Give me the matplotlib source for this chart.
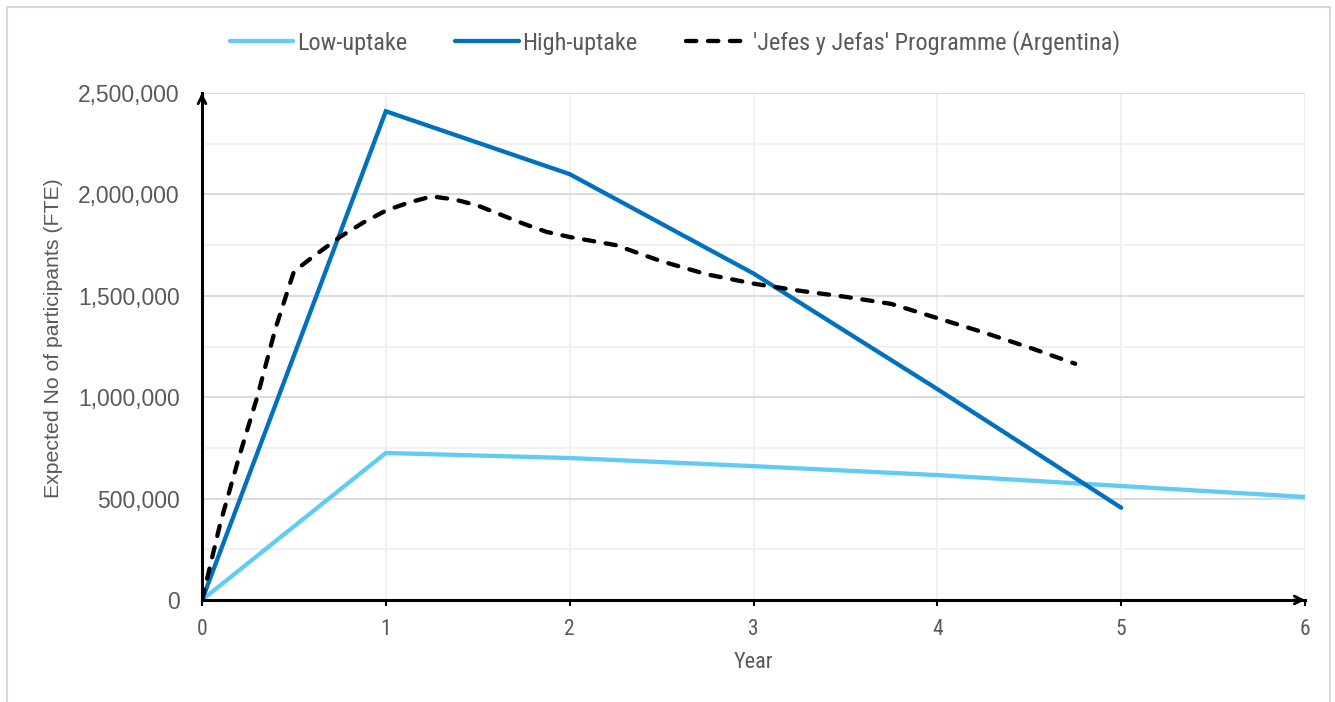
import matplotlib
matplotlib.use("Agg")
import matplotlib.pyplot as plt
from matplotlib.patches import Rectangle
from matplotlib.ticker import FuncFormatter, MultipleLocator
import logging
logging.getLogger("matplotlib.font_manager").setLevel(logging.ERROR)

# ---- data ----
years_low = [0, 1, 2, 3, 4, 5, 6]
low_uptake = [0, 725000, 700000, 660000, 616000, 562000, 508000]

years_high = [0, 1, 2, 3, 4, 5]
high_uptake = [0, 2410000, 2100000, 1610000, 1040000, 455000]

years_jefes = [0, 0.1, 0.2, 0.3, 0.4, 0.5, 0.6, 0.75, 0.875, 1.0, 1.125, 1.25,
               1.375, 1.5, 1.625, 1.75, 1.875, 2.0, 2.25, 2.5, 2.75, 3.0, 3.25,
               3.5, 3.75, 4.0, 4.25, 4.5, 4.75]
jefes = [0, 380000, 700000, 1000000, 1340000, 1620000, 1690000, 1790000,
         1860000, 1920000, 1960000, 1990000, 1975000, 1945000, 1900000,
         1855000, 1815000, 1790000, 1750000, 1670000, 1605000, 1560000,
         1525000, 1495000, 1460000, 1390000, 1320000, 1245000, 1165000]

series_labels = ["Low-uptake", "High-uptake", "'Jefes y Jefas' Programme (Argentina)"]
x_label = "Year"
y_label = "Expected No of participants (FTE)"
x_ticks = [0, 1, 2, 3, 4, 5, 6]

# ---- style ----
W, H = 1335, 702
fig = plt.figure(figsize=(W / 100, H / 100), dpi=100)
ax = fig.add_axes([202 / W, 1 - 600 / H, (1305 - 202) / W, (600 - 93) / H])

narrow = ["Roboto Condensed", "Archivo Narrow", "Liberation Sans", "DejaVu Sans"]
regular = ["Liberation Sans", "DejaVu Sans"]
grey = "#595959"

ax.set_xlim(0, 6)
ax.set_ylim(0, 2500000)

# gridlines
ax.yaxis.set_major_locator(MultipleLocator(500000))
ax.yaxis.set_minor_locator(MultipleLocator(250000))
ax.set_xticks(x_ticks)
ax.grid(True, which="major", axis="y", color="#D9D9D9", linewidth=1.3, zorder=0)
ax.grid(True, which="minor", axis="y", color="#EFEFEF", linewidth=1.3, zorder=0)
ax.grid(True, which="major", axis="x", color="#EFEFEF", linewidth=1.3, zorder=0)
ax.set_axisbelow(True)

ax.plot(years_low, low_uptake, color="#61CBF4", lw=3.1, label=series_labels[0],
        solid_capstyle="round", solid_joinstyle="miter", zorder=3)
ax.plot(years_high, high_uptake, color="#0070C0", lw=3.1, label=series_labels[1],
        solid_capstyle="round", solid_joinstyle="miter", zorder=4)
ax.plot(years_jefes, jefes, color="black", lw=3.1, label=series_labels[2],
        dashes=(2.4, 2.7), dash_capstyle="round", zorder=5)

# spines
for s in ["top", "right"]:
    ax.spines[s].set_visible(False)
for s in ["left", "bottom"]:
    ax.spines[s].set_linewidth(2.2)
    ax.spines[s].set_color("black")
    ax.spines[s].set_zorder(6)

# arrowheads on axes
arrow = dict(arrowstyle="->,head_length=0.55,head_width=0.28", color="black",
             lw=2.0, shrinkA=0, shrinkB=0)
ax.annotate("", xy=(0, 1.0), xycoords="axes fraction", xytext=(0, 0.99),
            arrowprops=arrow, annotation_clip=False)
ax.annotate("", xy=(1.0, 0), xycoords="axes fraction", xytext=(0.99, 0),
            arrowprops=arrow, annotation_clip=False)

# ticks
ax.yaxis.set_major_formatter(FuncFormatter(lambda v, p: f"{int(v):,}"))
ax.tick_params(axis="y", which="both", length=0, pad=16, labelsize=16.5, labelcolor=grey)
ax.tick_params(axis="x", which="major", length=4, width=1.5, color="black",
               pad=10, labelsize=15.5, labelcolor=grey)
for t in ax.get_yticklabels():
    t.set_family(regular)
for t in ax.get_xticklabels():
    t.set_family(narrow)

fig.text(753 / W, 1 - 662 / H, x_label, ha="center", va="center",
         fontsize=16, color=grey, family=narrow)
fig.text(54 / W, 1 - 338 / H, y_label, ha="center", va="center", rotation=90,
         fontsize=15.3, color=grey, family=regular)

leg = fig.legend(loc="center", bbox_to_anchor=(675 / W, 1 - 43 / H), ncol=3,
                 frameon=False, handlelength=2.6, handletextpad=0.16,
                 columnspacing=2.0, prop={"family": narrow, "size": 17.5})
for t in leg.get_texts():
    t.set_color(grey)

# outer frame
fig.patches.append(Rectangle((7 / W, -0.01), (1330 - 7) / W, 1.01 - 7 / H,
                             transform=fig.transFigure, fill=False,
                             edgecolor="#D9D9D9", linewidth=1.5))

fig.savefig("out.png", dpi=100)
